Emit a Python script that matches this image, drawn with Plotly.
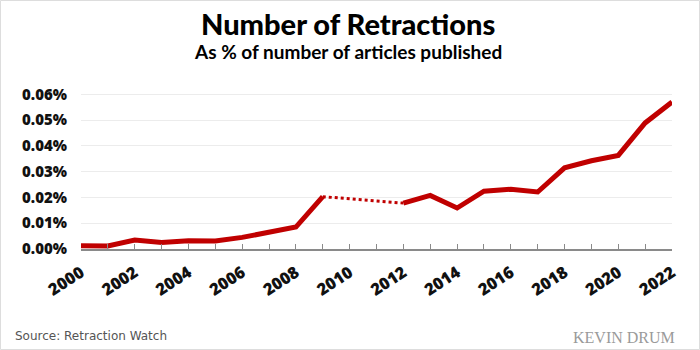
import plotly.graph_objects as go

years_solid_a = [2000, 2001, 2002, 2003, 2004, 2005, 2006, 2007, 2008, 2009]
values_solid_a = [0.0013, 0.0012, 0.0035, 0.0025, 0.0032, 0.0031, 0.0045, 0.0066, 0.0085, 0.0203]
years_dotted = [2009, 2012]
values_dotted = [0.0203, 0.0178]
years_solid_b = [2012, 2013, 2014, 2015, 2016, 2017, 2018, 2019, 2020, 2021, 2022]
values_solid_b = [0.0178, 0.0208, 0.0159, 0.0224, 0.0232, 0.0221, 0.0315, 0.0342, 0.0363, 0.0489, 0.0570]
y_ticks = [0, 0.01, 0.02, 0.03, 0.04, 0.05, 0.06]
x_tick_years = list(range(2000, 2023, 2))

RED = "#c00000"
fig = go.Figure()
fig.add_trace(go.Scatter(x=years_solid_a, y=values_solid_a, mode="lines",
                         line=dict(color=RED, width=5), hoverinfo="skip"))
fig.add_trace(go.Scatter(x=years_dotted, y=values_dotted, mode="lines",
                         line=dict(color=RED, width=3, dash="dot"), hoverinfo="skip"))
fig.add_trace(go.Scatter(x=years_solid_b, y=values_solid_b, mode="lines",
                         line=dict(color=RED, width=5), hoverinfo="skip"))

W, H = 700, 350
ml, mr, mt, mb = 81, 28, 93, 101
fig.update_layout(
    width=W, height=H, showlegend=False,
    margin=dict(l=ml, r=mr, t=mt, b=mb),
    paper_bgcolor="white", plot_bgcolor="white",
    font=dict(family="Open Sans", color="black"),
    xaxis=dict(range=[2000, 2022], tickmode="array", tickvals=x_tick_years,
               ticktext=[str(y) for y in x_tick_years], tickangle=-33,
               tickfont=dict(family="Open Sans", size=16.5, weight=800, color="#111111"),
               showgrid=False, zeroline=False, showline=True, linecolor="#8a8a8a", linewidth=1.5,
               ticks="inside", ticklen=5, tickcolor="#8a8a8a", ticklabelstandoff=6,
               minor=dict(dtick=1, ticks="inside", ticklen=5, tickcolor="#8a8a8a", showgrid=False)),
    yaxis=dict(range=[0, 0.0605], tickmode="array", tickvals=y_ticks,
               ticktext=[f"{v:.2f}%" for v in y_ticks],
               tickfont=dict(family="Open Sans", size=15, weight=800, color="#111111"),
               showgrid=True, gridcolor="#ececec", gridwidth=1, zeroline=False,
               showline=False, ticks="", ticklabelstandoff=13),
)

def px(xp):
    return (xp - ml) / (W - ml - mr)
def py(yp):
    return (H - mb - yp) / (H - mt - mb)

fig.add_annotation(text="Number of Retractions", xref="paper", yref="paper",
                   x=px(348), y=py(23), xanchor="center", yanchor="middle", showarrow=False,
                   font=dict(family="Lato", size=29, weight=900, color="black"))
fig.add_annotation(text="As % of number of articles published", xref="paper", yref="paper",
                   x=px(348), y=py(51), xanchor="center", yanchor="middle", showarrow=False,
                   font=dict(family="Lato", size=19, weight="bold", color="black"))
fig.add_annotation(text="Source: Retraction Watch", xref="paper", yref="paper",
                   x=px(13), y=py(336), xanchor="left", yanchor="middle", showarrow=False,
                   font=dict(family="DejaVu Sans", size=12, color="#555555"))
fig.add_annotation(text="KEVIN DRUM", xref="paper", yref="paper",
                   x=px(677), y=py(337), xanchor="right", yanchor="middle", showarrow=False,
                   font=dict(family="Liberation Serif", size=16, color="#9a9a9a"))
fig.add_shape(type="rect", xref="paper", yref="paper",
              x0=px(0.5), x1=px(699.5), y0=py(349.5), y1=py(0.5),
              line=dict(color="#dddddd", width=1), fillcolor="rgba(0,0,0,0)")

fig.write_html("out.html")
